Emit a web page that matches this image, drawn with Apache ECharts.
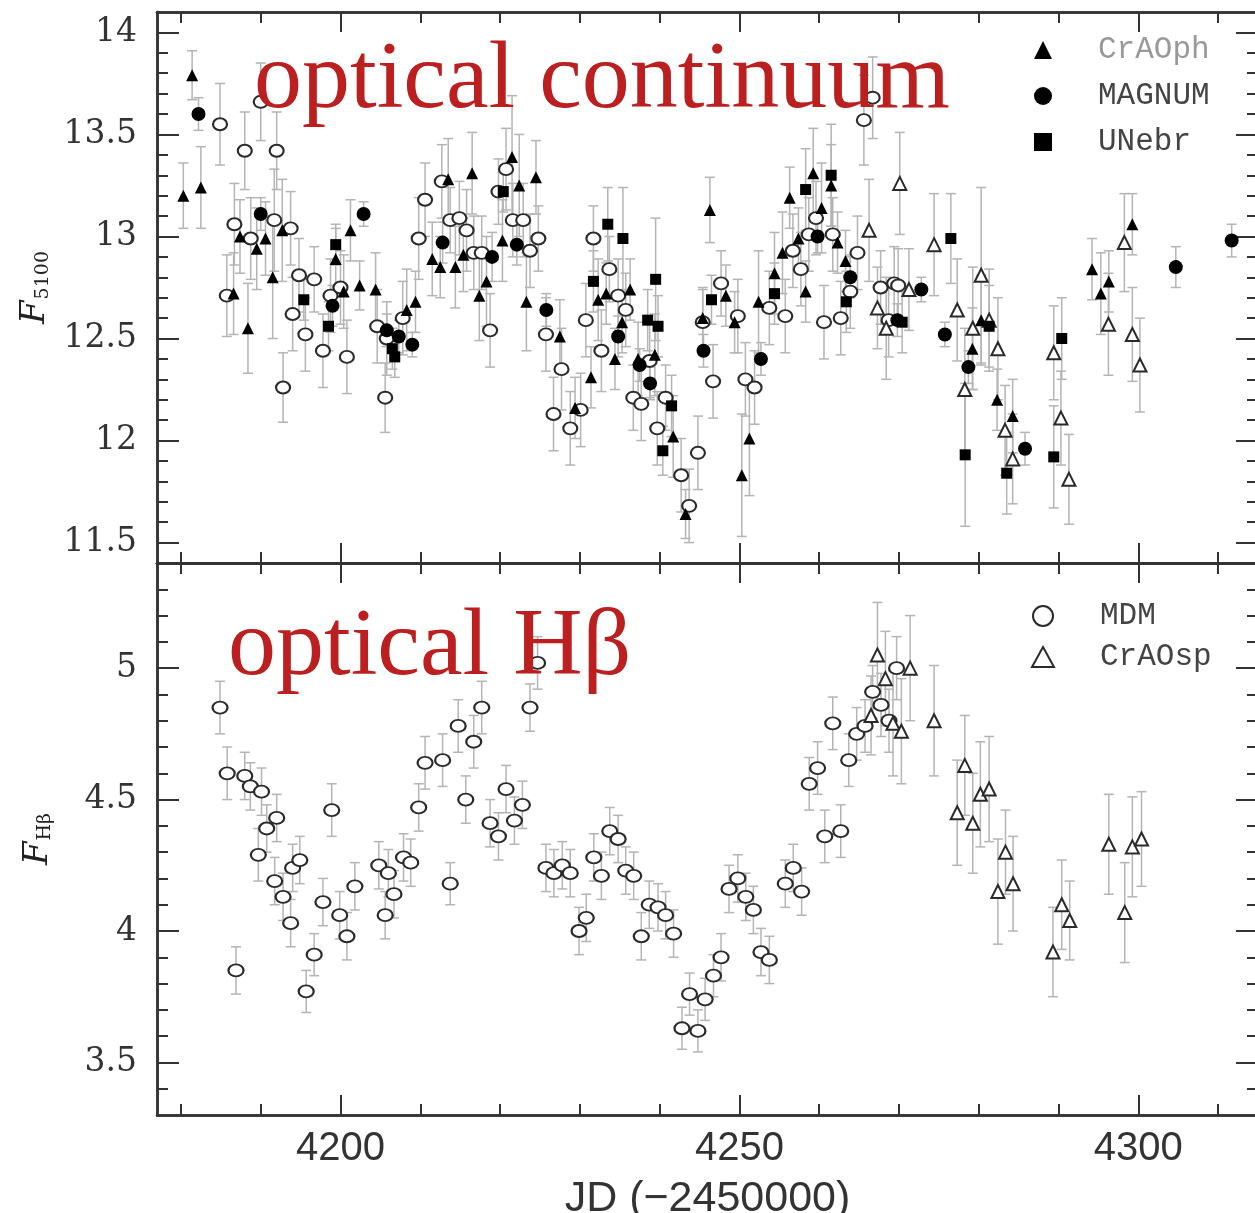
<!DOCTYPE html>
<html>
<head>
<meta charset="utf-8">
<script src="https://cdn.jsdelivr.net/npm/echarts@6/dist/echarts.min.js"></script>
<style>
html,body{margin:0;padding:0;background:#fff;}
#chart{width:1255px;height:1213px;}
</style>
</head>
<body>
<div id="chart"></div>
<script>
// ---------------- DATA ----------------
// Top panel: F5100 continuum
const crAOphJD = [4180.3, 4181.4, 4182.5, 4186.6, 4187.4, 4188.4, 4189.5, 4190.6, 4191.5, 4192.7,
  4199.4, 4200.4, 4201.25, 4202.4, 4204.4, 4208.3, 4209.4, 4211.5, 4212.5, 4213.5,
  4214.4, 4215.4, 4216.5, 4217.4, 4218.3, 4220.3, 4221.5, 4222.4, 4223.3, 4224.5,
  4227.5, 4229.4, 4231.4, 4232.3, 4233.3, 4234.4, 4235.3, 4236.3, 4237.3, 4239.4,
  4241.7, 4243.25, 4245.4, 4246.3, 4248.3, 4249.4, 4250.3, 4251.25, 4252.4, 4254.4,
  4255.4, 4256.3, 4257.4, 4258.3, 4259.25, 4260.3, 4261.5, 4262.3, 4263.3, 4279.2,
  4280.3, 4282.3, 4284.25, 4294.2, 4295.3, 4296.3, 4299.25];
const crAOphFlux = [13.20, 13.79, 13.24, 12.72, 13.00, 12.55, 12.94, 12.99, 12.80, 13.03,
  12.89, 12.73, 13.03, 12.76, 12.74, 12.64, 12.68, 12.89, 12.85, 13.28,
  12.85, 12.91, 13.31, 12.71, 12.78, 12.98, 13.39, 13.25, 12.68, 13.29,
  12.51, 12.16, 12.31, 12.69, 12.72, 12.40, 12.58, 12.74, 12.40, 12.42,
  12.02, 11.64, 12.60, 13.13, 12.71, 12.58, 11.83, 12.01, 12.68, 12.82,
  12.92, 13.19, 12.99, 12.73, 13.31, 13.14, 13.25, 12.97, 12.88, 12.45,
  12.59, 12.20, 12.12, 12.84, 12.72, 12.78, 13.06];
const crAOphErr = [0.16, 0.12, 0.20, 0.20, 0.18, 0.22, 0.20, 0.18, 0.30, 0.25,
  0.15, 0.18, 0.15, 0.12, 0.18, 0.20, 0.15, 0.18, 0.15, 0.20,
  0.20, 0.18, 0.20, 0.22, 0.22, 0.20, 0.30, 0.25, 0.24, 0.18,
  0.18, 0.15, 0.15, 0.20, 0.15, 0.15, 0.15, 0.15, 0.18, 0.20,
  0.20, 0.12, 0.15, 0.16, 0.15, 0.15, 0.30, 0.28, 0.25, 0.20,
  0.20, 0.15, 0.15, 0.15, 0.22, 0.22, 0.20, 0.15, 0.15, 0.20,
  0.22, 0.15, 0.18, 0.15, 0.20, 0.15, 0.15];

const magnumJD = [4182.2, 4190.0, 4199.0, 4202.9, 4205.8, 4207.3, 4209.0, 4212.8, 4219.0, 4222.1,
  4225.8, 4234.8, 4237.5, 4238.8, 4245.5, 4252.7, 4259.8, 4263.9, 4269.8, 4272.8,
  4275.75, 4278.7, 4285.8, 4304.7, 4311.7];
const magnumFlux = [13.60, 13.11, 12.66, 13.11, 12.54, 12.51, 12.47, 12.97, 12.90, 12.96,
  12.64, 12.51, 12.37, 12.28, 12.44, 12.40, 13.00, 12.80, 12.59, 12.74,
  12.52, 12.36, 11.96, 12.85, 12.98];
const magnumErr = [0.08, 0.08, 0.10, 0.06, 0.08, 0.08, 0.06, 0.10, 0.12, 0.10,
  0.08, 0.10, 0.08, 0.08, 0.08, 0.08, 0.08, 0.10, 0.08, 0.06,
  0.06, 0.08, 0.08, 0.10, 0.08];

const unebrJD = [4195.4, 4198.5, 4199.4, 4206.5, 4206.8, 4220.4, 4231.7, 4233.5, 4235.4, 4238.5,
  4239.5, 4239.8, 4240.4, 4241.5, 4246.5, 4254.4, 4258.3, 4261.5, 4263.4, 4270.4,
  4276.5, 4278.3, 4281.3, 4283.5, 4289.4, 4290.4];
const unebrFlux = [12.69, 12.56, 12.96, 12.45, 12.41, 13.22, 12.78, 13.06, 12.99, 12.59,
  12.79, 12.56, 11.95, 12.17, 12.69, 12.72, 13.23, 13.30, 12.68, 12.58,
  12.99, 11.93, 12.56, 11.84, 11.92, 12.50];
const unebrErr = [0.10, 0.12, 0.10, 0.10, 0.10, 0.10, 0.15, 0.18, 0.25, 0.15,
  0.30, 0.15, 0.12, 0.15, 0.12, 0.15, 0.20, 0.25, 0.15, 0.15,
  0.22, 0.35, 0.20, 0.20, 0.25, 0.20];

const mdmContJD = [4184.9, 4185.75, 4186.7, 4188.0, 4188.75, 4190.0, 4191.7, 4192.0, 4192.8, 4193.75,
  4194.0, 4194.8, 4195.6, 4196.7, 4197.8, 4198.75, 4200.0, 4200.8, 4204.6, 4205.6,
  4205.8, 4207.8, 4209.8, 4210.6, 4212.7, 4213.75, 4214.9, 4215.8, 4216.7, 4217.7,
  4218.75, 4219.8, 4220.75, 4221.6, 4222.9, 4223.75, 4224.8, 4225.75, 4226.7, 4227.7,
  4228.8, 4230.1, 4230.75, 4231.7, 4232.7, 4233.7, 4234.8, 4235.75, 4236.7, 4237.7,
  4238.75, 4239.7, 4240.75, 4242.7, 4243.7, 4244.8, 4245.4, 4246.7, 4247.7, 4249.8,
  4250.75, 4251.9, 4253.75, 4255.75, 4256.7, 4257.7, 4258.7, 4259.6, 4260.6, 4261.7,
  4262.7, 4263.9, 4264.8, 4265.6, 4266.7, 4267.7, 4268.7, 4269.4, 4269.9];
const mdmContFlux = [13.55, 12.71, 13.06, 13.42, 12.99, 13.66, 13.08, 13.42, 12.26, 13.04,
  12.62, 12.81, 12.52, 12.79, 12.44, 12.71, 12.75, 12.41, 12.56, 12.21,
  12.50, 12.60, 12.99, 13.18, 13.27, 13.08, 13.09, 13.03, 12.92, 12.92,
  12.54, 13.22, 13.33, 13.08, 13.08, 12.93, 12.99, 12.52, 12.13, 12.35,
  12.06, 12.15, 12.59, 12.99, 12.44, 12.84, 12.71, 12.64, 12.21, 12.18,
  12.39, 12.06, 12.21, 11.83, 11.68, 11.94, 12.58, 12.29, 12.77, 12.61,
  12.30, 12.26, 12.65, 12.61, 12.93, 12.84, 13.01, 13.09, 12.58, 13.01,
  12.60, 12.73, 12.92, 13.57, 13.68, 12.75, 12.59, 12.77, 12.76];
const mdmContErr = [0.20, 0.20, 0.20, 0.19, 0.20, 0.19, 0.25, 0.19, 0.17, 0.18,
  0.18, 0.18, 0.18, 0.16, 0.18, 0.18, 0.18, 0.18, 0.18, 0.17,
  0.18, 0.18, 0.20, 0.18, 0.18, 0.16, 0.18, 0.20, 0.18, 0.18,
  0.18, 0.16, 0.20, 0.18, 0.18, 0.18, 0.16, 0.18, 0.18, 0.20,
  0.18, 0.18, 0.18, 0.16, 0.20, 0.16, 0.18, 0.18, 0.16, 0.18,
  0.18, 0.18, 0.16, 0.18, 0.18, 0.18, 0.16, 0.18, 0.16, 0.18,
  0.18, 0.18, 0.18, 0.18, 0.18, 0.18, 0.18, 0.18, 0.18, 0.18,
  0.18, 0.18, 0.18, 0.22, 0.20, 0.18, 0.18, 0.18, 0.18];

const crAOspContJD = [4266.25, 4267.3, 4268.4, 4270.1, 4271.25, 4274.4, 4277.3, 4278.25, 4279.25, 4280.3,
  4281.3, 4282.4, 4283.3, 4284.25, 4289.4, 4290.3, 4291.3, 4296.25, 4298.25, 4299.25, 4300.2];
const crAOspContFlux = [13.03, 12.65, 12.55, 13.26, 12.74, 12.96, 12.64, 12.25, 12.55, 12.81,
  12.59, 12.45, 12.05, 11.91, 12.43, 12.11, 11.81, 12.57, 12.97, 12.52, 12.37];
const crAOspContErr = [0.25, 0.20, 0.25, 0.25, 0.20, 0.25, 0.25, 0.30, 0.30, 0.43,
  0.25, 0.25, 0.22, 0.22, 0.23, 0.23, 0.22, 0.25, 0.24, 0.23, 0.23];

// Bottom panel: H-beta
const mdmHbJD = [4184.9, 4185.8, 4186.9, 4188.0, 4188.7, 4189.7, 4190.1, 4190.75, 4191.75, 4192.0,
  4192.8, 4193.75, 4194.0, 4194.9, 4195.7, 4196.7, 4197.8, 4198.9, 4199.9, 4200.8,
  4201.8, 4204.8, 4205.6, 4206.0, 4206.7, 4207.9, 4208.8, 4209.8, 4210.6, 4212.8,
  4213.75, 4214.75, 4215.7, 4216.7, 4217.7, 4218.75, 4219.8, 4220.75, 4221.8, 4222.8,
  4223.75, 4224.7, 4225.75, 4226.75, 4227.8, 4228.8, 4229.9, 4230.8, 4231.75, 4232.7,
  4233.75, 4234.8, 4235.75, 4236.75, 4237.7, 4238.7, 4239.8, 4240.75, 4241.75, 4242.8,
  4243.75, 4244.8, 4245.7, 4246.75, 4247.7, 4248.7, 4249.8, 4250.8, 4251.75, 4252.7,
  4253.75, 4255.75, 4256.75, 4257.8, 4258.75, 4259.8, 4260.7, 4261.7, 4262.7, 4263.7,
  4264.7, 4265.75, 4266.7, 4267.75, 4268.75, 4269.7];
const mdmHbFlux = [4.85, 4.60, 3.85, 4.59, 4.55, 4.29, 4.53, 4.39, 4.19, 4.43,
  4.13, 4.03, 4.24, 4.27, 3.77, 3.91, 4.11, 4.46, 4.06, 3.98,
  4.17, 4.25, 4.06, 4.22, 4.14, 4.28, 4.26, 4.47, 4.64, 4.65,
  4.18, 4.78, 4.50, 4.72, 4.85, 4.41, 4.36, 4.54, 4.42, 4.48,
  4.85, 5.02, 4.24, 4.22, 4.25, 4.22, 4.00, 4.05, 4.28, 4.21,
  4.38, 4.35, 4.23, 4.21, 3.98, 4.10, 4.09, 4.06, 3.99, 3.63,
  3.76, 3.62, 3.74, 3.83, 3.90, 4.16, 4.20, 4.13, 4.08, 3.92,
  3.89, 4.18, 4.24, 4.15, 4.56, 4.62, 4.36, 4.79, 4.38, 4.65,
  4.75, 4.78, 4.91, 4.86, 4.80, 5.00];
const mdmHbErr = [0.10, 0.10, 0.09, 0.09, 0.09, 0.10, 0.09, 0.09, 0.09, 0.09,
  0.09, 0.09, 0.09, 0.09, 0.08, 0.08, 0.09, 0.10, 0.09, 0.09,
  0.09, 0.09, 0.09, 0.09, 0.09, 0.09, 0.09, 0.09, 0.10, 0.10,
  0.08, 0.10, 0.09, 0.10, 0.10, 0.09, 0.09, 0.09, 0.09, 0.09,
  0.09, 0.10, 0.09, 0.09, 0.09, 0.09, 0.09, 0.09, 0.09, 0.09,
  0.09, 0.09, 0.09, 0.09, 0.09, 0.09, 0.09, 0.09, 0.09, 0.08,
  0.08, 0.08, 0.08, 0.08, 0.09, 0.09, 0.09, 0.09, 0.09, 0.09,
  0.09, 0.09, 0.09, 0.09, 0.10, 0.10, 0.10, 0.10, 0.10, 0.10,
  0.10, 0.10, 0.10, 0.12, 0.12, 0.12];

const crAOspHbJD = [4266.5, 4267.3, 4268.3, 4269.25, 4270.3, 4271.4, 4274.4, 4277.3, 4278.25, 4279.25,
  4280.2, 4281.3, 4282.4, 4283.35, 4284.3, 4289.3, 4290.4, 4291.4, 4296.3, 4298.3, 4299.25, 4300.4];
const crAOspHbFlux = [4.82, 5.05, 4.96, 4.79, 4.76, 5.00, 4.80, 4.45, 4.63, 4.41,
  4.52, 4.54, 4.15, 4.30, 4.18, 3.92, 4.10, 4.04, 4.33, 4.07, 4.32, 4.35];
const crAOspHbErr = [0.15, 0.20, 0.18, 0.20, 0.20, 0.20, 0.21, 0.20, 0.19, 0.19,
  0.20, 0.20, 0.20, 0.16, 0.18, 0.17, 0.17, 0.15, 0.19, 0.19, 0.19, 0.18];

// Ticks / labels
const jdMajorTicks = [4200, 4250, 4300];
const jdMinorTicks = [4180, 4190, 4200, 4210, 4220, 4230, 4240, 4250, 4260, 4270, 4280, 4290, 4300, 4310];
const contMajorTicks = [11.5, 12, 12.5, 13, 13.5, 14];
const contMinorTicks = [11.5, 11.6, 11.7, 11.8, 11.9, 12.0, 12.1, 12.2, 12.3, 12.4, 12.5, 12.6, 12.7,
  12.8, 12.9, 13.0, 13.1, 13.2, 13.3, 13.4, 13.5, 13.6, 13.7, 13.8, 13.9, 14.0];
const hbMajorTicks = [3.5, 4, 4.5, 5];
const hbMinorTicks = [3.4, 3.5, 3.6, 3.7, 3.8, 3.9, 4.0, 4.1, 4.2, 4.3, 4.4, 4.5, 4.6, 4.7, 4.8,
  4.9, 5.0, 5.1, 5.2, 5.3];

// ---------------- CHART ----------------
const FRAME = '#333';
const SANS = '"Liberation Sans Narrow","Liberation Sans",sans-serif';
const xAx = (grid, pos, ticks, len, label, extra) => Object.assign({
  type: 'value', gridIndex: grid, position: pos, min: 4177, max: 4315,
  axisLine: {show: true, onZero: false, lineStyle: {color: FRAME, width: 2.5}},
  axisTick: {show: true, inside: true, length: len, customValues: ticks, lineStyle: {color: FRAME, width: 2}},
  axisLabel: label ? {show: true, customValues: ticks, margin: 14, fontFamily: SANS,
    fontSize: 40, color: '#333', formatter: v => String(v)} : {show: false},
  splitLine: {show: false}
}, extra || {});
const yAx = (grid, pos, ticks, len, label, mm, extra) => Object.assign({
  type: 'value', gridIndex: grid, position: pos, min: mm[0], max: mm[1],
  axisLine: {show: true, onZero: false, lineStyle: {color: FRAME, width: 2.5}},
  axisTick: {show: true, inside: true, length: len, customValues: ticks, lineStyle: {color: FRAME, width: 2}},
  axisLabel: label ? {show: true, customValues: ticks, margin: 20, fontFamily: '"DejaVu Serif",serif',
    fontSize: 33, color: '#333', formatter: v => String(v)} : {show: false},
  splitLine: {show: false}
}, extra || {});

const TOP = [11.4, 14.1], BOT = [3.3, 5.4];
const nameRich = {
  f: {fontFamily: '"DejaVu Serif",serif', fontStyle: 'italic', fontSize: 34, color: '#222'},
  s: {fontFamily: '"DejaVu Serif",serif', fontSize: 19, color: '#222', verticalAlign: 'bottom', padding: [14, 0, 0, 1]}
};

const xAxes = [
  xAx(0, 'bottom', jdMajorTicks, 20, false), xAx(0, 'bottom', jdMinorTicks, 11, false),
  xAx(0, 'top', jdMajorTicks, 20, false), xAx(0, 'top', jdMinorTicks, 11, false),
  xAx(1, 'bottom', jdMajorTicks, 20, true, {name: 'JD (\u22122450000)', nameLocation: 'middle', nameGap: 63,
    nameTextStyle: {fontFamily: SANS, fontSize: 43, color: '#333'}}),
  xAx(1, 'bottom', jdMinorTicks, 11, false),
  xAx(1, 'top', jdMajorTicks, 20, false), xAx(1, 'top', jdMinorTicks, 11, false)
];
const yAxes = [
  yAx(0, 'left', contMajorTicks, 22, true, TOP, {name: '{f|F}{s|5100}', nameLocation: 'middle', nameGap: 102, nameRotate: 90,
    nameTextStyle: {rich: nameRich}}),
  yAx(0, 'left', contMinorTicks, 11, false, TOP),
  yAx(0, 'right', contMajorTicks, 22, false, TOP), yAx(0, 'right', contMinorTicks, 11, false, TOP),
  yAx(1, 'left', hbMajorTicks, 22, true, BOT, {name: '{f|F}{s|H\u03b2}', nameLocation: 'middle', nameGap: 102, nameRotate: 90,
    nameTextStyle: {rich: nameRich}}),
  yAx(1, 'left', hbMinorTicks, 11, false, BOT),
  yAx(1, 'right', hbMajorTicks, 22, false, BOT), yAx(1, 'right', hbMinorTicks, 11, false, BOT)
];

function errSeries(name, jd, flux, err, ai) {
  return {
    type: 'custom', name: name + ' err', xAxisIndex: ai, yAxisIndex: ai, silent: true, z: 1, clip: true,
    data: jd.map((x, i) => [x, flux[i], err[i]]),
    encode: {x: 0, y: 1},
    renderItem: function (params, api) {
      const x = api.value(0), y = api.value(1), e = api.value(2);
      const a = api.coord([x, y + e]), b = api.coord([x, y - e]);
      const hw = 5, st = {stroke: '#b4b4b4', lineWidth: 1.5};
      return {type: 'group', children: [
        {type: 'line', shape: {x1: a[0], y1: a[1], x2: b[0], y2: b[1]}, style: st},
        {type: 'line', shape: {x1: a[0] - hw, y1: a[1], x2: a[0] + hw, y2: a[1]}, style: st},
        {type: 'line', shape: {x1: b[0] - hw, y1: b[1], x2: b[0] + hw, y2: b[1]}, style: st}
      ]};
    }
  };
}
function ptSeries(name, jd, flux, ai, symbol, size, style) {
  return {type: 'scatter', name: name, xAxisIndex: ai, yAxisIndex: ai, z: 3,
    data: jd.map((x, i) => [x, flux[i]]), symbol: symbol, symbolSize: size, itemStyle: style};
}
const openStyle = {color: '#fff', borderColor: '#2a2a2a', borderWidth: 2, opacity: 1};
const filled = {color: '#000', opacity: 1};

const series = [
  errSeries('MDM', mdmContJD, mdmContFlux, mdmContErr, 0),
  errSeries('CrAOsp', crAOspContJD, crAOspContFlux, crAOspContErr, 0),
  errSeries('CrAOph', crAOphJD, crAOphFlux, crAOphErr, 0),
  errSeries('MAGNUM', magnumJD, magnumFlux, magnumErr, 0),
  errSeries('UNebr', unebrJD, unebrFlux, unebrErr, 0),
  errSeries('MDM', mdmHbJD, mdmHbFlux, mdmHbErr, 4),
  errSeries('CrAOsp', crAOspHbJD, crAOspHbFlux, crAOspHbErr, 4),
  ptSeries('MDM', mdmContJD, mdmContFlux, 0, 'circle', [14, 12], openStyle),
  ptSeries('CrAOsp', crAOspContJD, crAOspContFlux, 0, 'triangle', 13, openStyle),
  ptSeries('CrAOph', crAOphJD, crAOphFlux, 0, 'triangle', 12, filled),
  ptSeries('MAGNUM', magnumJD, magnumFlux, 0, 'circle', 14, filled),
  ptSeries('UNebr', unebrJD, unebrFlux, 0, 'rect', 11, filled),
  ptSeries('MDM', mdmHbJD, mdmHbFlux, 4, 'circle', [15, 12], openStyle),
  ptSeries('CrAOsp', crAOspHbJD, crAOspHbFlux, 4, 'triangle', 13, openStyle)
];

const legendText = {fontFamily: '"Liberation Mono",monospace', fontSize: 31, color: '#444', padding: [0, 0, 0, 41], lineHeight: 34};
const option = {
  backgroundColor: '#fff',
  animation: false,
  grid: [
    {left: 157, top: 12, width: 1101, height: 551, outerBoundsMode: 'none'},
    {left: 157, top: 563, width: 1101, height: 552, outerBoundsMode: 'none'}
  ],
  xAxis: xAxes,
  yAxis: yAxes,
  legend: [
    {data: [{name: 'CrAOph', textStyle: {color: '#999'}}, 'MAGNUM', 'UNebr'], orient: 'vertical', left: 1034, top: 33,
      itemWidth: 18, itemHeight: 18, itemGap: 12, padding: 0, selectedMode: false, textStyle: legendText},
    {data: ['MDM', 'CrAOsp'], orient: 'vertical', left: 1031, top: 599,
      itemWidth: 22, itemHeight: 20, itemGap: 7, padding: 0, selectedMode: false, textStyle: legendText}
  ],
  graphic: [
    {type: 'text', left: 254, top: 34, z: 100, style: {text: 'optical continuum', font: '96px "Liberation Serif"', fill: '#bc1f1f'}},
    {type: 'text', left: 228, top: 601, z: 100, style: {text: 'optical H\u03b2', font: '96px "Liberation Serif"', fill: '#bc1f1f'}}
  ],
  series: series
};
const chart = echarts.init(document.getElementById('chart'), null, {renderer: 'canvas'});
chart.setOption(option);
</script>
</body>
</html>
